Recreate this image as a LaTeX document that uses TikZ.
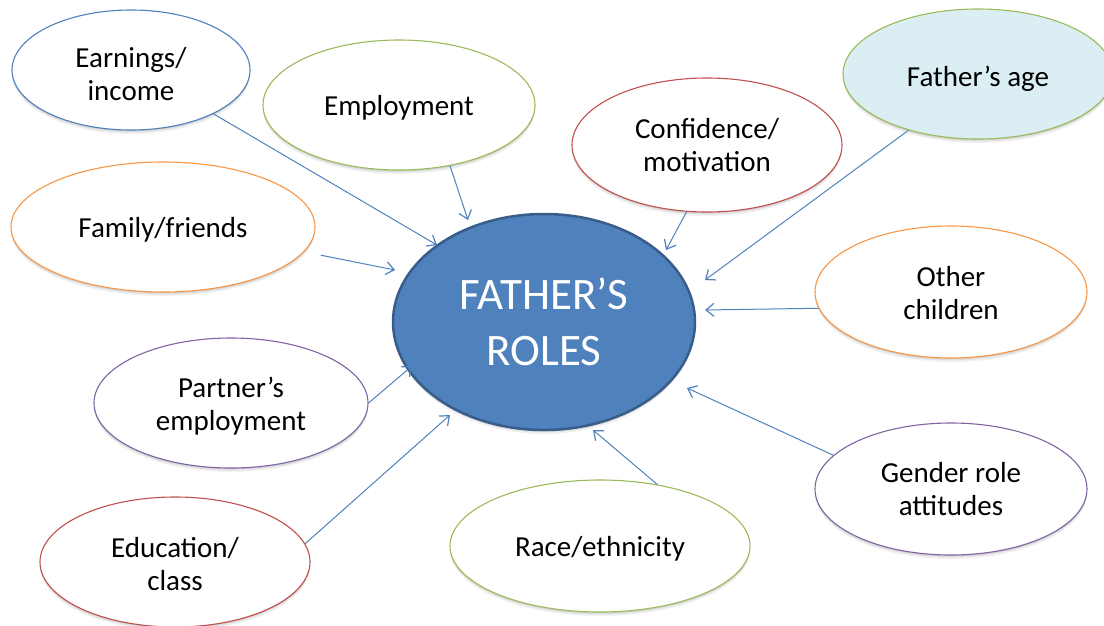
\documentclass[tikz,border=0pt]{standalone}
\usepackage{fontspec}
\setmainfont{Carlito}
\usetikzlibrary{arrows.meta,shapes.geometric,shadows}
\definecolor{accblue}{HTML}{4F81BD}
\definecolor{darkblue}{HTML}{385D8A}
\definecolor{accgreen}{HTML}{9BBB59}
\definecolor{accred}{HTML}{C0504D}
\definecolor{accorange}{HTML}{F79646}
\definecolor{accpurple}{HTML}{8064A2}
\definecolor{paleblue}{HTML}{DAEEF3}
\tikzset{
  softshadow/.style={
    preaction={fill=black, opacity=0.05, transform canvas={yshift=-4pt}},
    preaction={fill=black, opacity=0.07, transform canvas={yshift=-2.5pt}},
    preaction={fill=black, opacity=0.08, transform canvas={yshift=-1.2pt}}},
  factor/.style={ellipse, draw=#1, line width=1.1pt, fill=white, inner sep=0pt, softshadow},
  ftext/.style={align=center, font=\fontsize{29}{33}\selectfont, inner sep=0pt},
  link/.style={draw=accblue, line width=1pt, -{Straight Barb[length=8pt,width=13pt,line width=1.2pt]}}
}
\begin{document}
\begin{tikzpicture}[x=1pt,y=-1pt]
\useasboundingbox (0,0) rectangle (1104,625);
% factor nodes
\node[factor=accblue, minimum width=238pt, minimum height=120pt,
  label={[ftext, yshift=-4pt]center:Earnings/\\income}] (earn) at (131,70) {};
\node[factor=accgreen, minimum width=272pt, minimum height=130pt,
  label={[ftext, yshift=-3pt]center:Employment}] (emp) at (399,105) {};
\node[factor=accred, minimum width=270pt, minimum height=134pt,
  label={[ftext, yshift=0pt]center:Confidence/\\motivation}] (conf) at (707,145) {};
\node[factor=accgreen, fill=paleblue, minimum width=270pt, minimum height=130pt,
  label={[ftext, yshift=-5pt]center:Father’s age}] (age) at (978,74) {};
\node[factor=accorange, minimum width=304pt, minimum height=130pt,
  label={[ftext, yshift=-3pt]center:Family/friends}] (fam) at (163,227) {};
\node[factor=accorange, minimum width=272pt, minimum height=132pt,
  label={[ftext, yshift=-1pt]center:Other\\children}] (other) at (951,292) {};
\node[factor=accpurple, minimum width=274pt, minimum height=130pt,
  label={[ftext, yshift=-3pt]center:Partner’s\\employment}] (part) at (231,403) {};
\node[factor=accpurple, minimum width=272pt, minimum height=132pt,
  label={[ftext, yshift=0pt]center:Gender role\\attitudes}] (gen) at (951,489) {};
\node[factor=accgreen, minimum width=300pt, minimum height=132pt,
  label={[ftext, yshift=-3pt]center:Race/ethnicity}] (race) at (600,546) {};
\node[factor=accred, minimum width=270pt, minimum height=130pt,
  label={[ftext, yshift=-2pt]center:Education/\\class}] (edu) at (175,562) {};
% central node
\node[ellipse, draw=darkblue, line width=2.5pt, fill=accblue, inner sep=0pt,
  minimum width=302pt, minimum height=216pt, align=center, text=white,
  font=\fontsize{45}{56}\selectfont, softshadow] (roles) at (544,322) {FATHER’S\\ROLES};
% arrow tips near the central node
\coordinate (t1) at (437,245);
\coordinate (t2) at (468,220);
\coordinate (t3) at (666,250);
\coordinate (t4) at (705,280);
\coordinate (t5) at (395,270);
\coordinate (t6) at (705,310);
\coordinate (t7) at (412,366);
\coordinate (t8) at (687,388);
\coordinate (t9) at (593,430);
\coordinate (t10) at (450,415);
% connectors
\draw[link] (earn.-28) -- (t1);
\draw[link] (emp.-50) -- (t2);
\draw[link] (conf.-107) -- (t3);
\draw[link] (age.219) -- (t4);
\draw[link, shorten <=17pt] (fam.-10) -- (t5);
\draw[link] (other.187) -- (t6);
\draw[link] (part.0) -- (t7);
\draw[link] (gen.164) -- (t8);
\draw[link] (race.47) -- (t9);
\draw[link] (edu.8) -- (t10);
\end{tikzpicture}
\end{document}
